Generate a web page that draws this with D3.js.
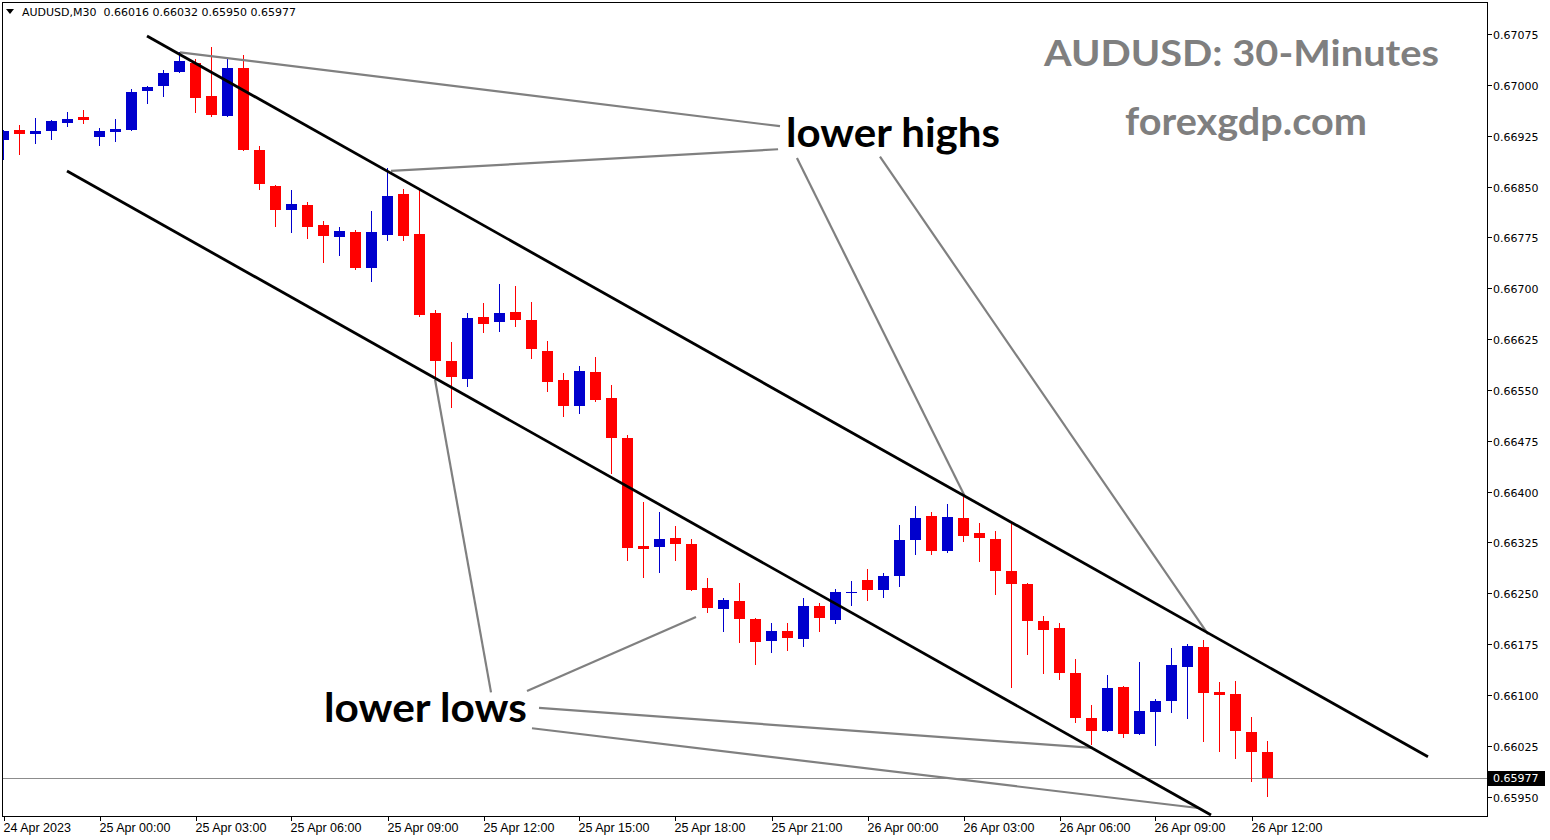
<!DOCTYPE html>
<html><head><meta charset="utf-8">
<script src="https://cdn.jsdelivr.net/npm/d3@7"></script>
<style>body{margin:0;background:#fff}svg{display:block}</style>
</head><body>
<svg id="c" width="1550" height="840"></svg>
<script>
// ---- data ----
const symbol = "AUDUSD,M30";
const opens = [0.66919,0.66933,0.66928,0.66932,0.66944,0.66953,0.66923,0.66930,0.66933,0.66991,
0.66998,0.67019,0.67032,0.66984,0.66954,0.67025,0.66904,0.66851,0.66815,0.66823,
0.66793,0.66776,0.66783,0.66730,0.66779,0.66839,0.66780,0.66663,0.66593,0.66566,
0.66658,0.66650,0.66665,0.66653,0.66607,0.66565,0.66526,0.66576,0.66538,0.66479,
0.66320,0.66318,0.66332,0.66323,0.66258,0.66227,0.66239,0.66212,0.66180,0.66194,
0.66183,0.66231,0.66211,0.66250,0.66270,0.66255,0.66276,0.66329,0.66364,0.66312,
0.66361,0.66339,0.66330,0.66283,0.66264,0.66209,0.66199,0.66133,0.66066,0.66047,
0.66112,0.66042,0.66075,0.66091,0.66141,0.66171,0.66104,0.66101,0.66045,0.66016];
const highs = [0.66933,0.66941,0.66951,0.66948,0.66960,0.66963,0.66936,0.66950,0.66994,0.66998,
0.67022,0.67048,0.67038,0.67056,0.67038,0.67044,0.66910,0.66852,0.66845,0.66827,
0.66799,0.66790,0.66786,0.66814,0.66877,0.66846,0.66845,0.66668,0.66621,0.66663,
0.66678,0.66706,0.66703,0.66680,0.66622,0.66575,0.66585,0.66599,0.66557,0.66483,
0.66385,0.66370,0.66349,0.66330,0.66273,0.66243,0.66265,0.66214,0.66206,0.66206,
0.66243,0.66236,0.66256,0.66268,0.66286,0.66280,0.66351,0.66379,0.66370,0.66382,
0.66392,0.66354,0.66342,0.66354,0.66265,0.66217,0.66206,0.66153,0.66085,0.66130,
0.66113,0.66149,0.66094,0.66169,0.66175,0.66181,0.66119,0.66121,0.66068,0.66032];
const lows = [0.66889,0.66897,0.66913,0.66919,0.66938,0.66942,0.66910,0.66916,0.66932,0.66972,
0.66982,0.67018,0.66958,0.66953,0.66953,0.66903,0.66845,0.66790,0.66781,0.66773,
0.66737,0.66748,0.66727,0.66709,0.66770,0.66770,0.66658,0.66569,0.66523,0.66554,
0.66634,0.66635,0.66643,0.66596,0.66547,0.66510,0.66515,0.66532,0.66426,0.66298,
0.66273,0.66280,0.66298,0.66254,0.66221,0.66193,0.66177,0.66144,0.66162,0.66165,
0.66171,0.66193,0.66205,0.66231,0.66239,0.66243,0.66259,0.66307,0.66307,0.66310,
0.66326,0.66296,0.66247,0.66110,0.66159,0.66131,0.66122,0.66059,0.66026,0.66046,
0.66037,0.66041,0.66025,0.66074,0.66065,0.66031,0.66016,0.66006,0.65972,0.65950];
const closes = [0.66932,0.66927,0.66932,0.66947,0.66950,0.66948,0.66932,0.66935,0.66989,0.66997,
0.67017,0.67035,0.66981,0.66955,0.67025,0.66904,0.66854,0.66815,0.66824,0.66790,
0.66777,0.66784,0.66730,0.66783,0.66836,0.66777,0.66661,0.66593,0.66569,0.66656,
0.66647,0.66663,0.66653,0.66610,0.66562,0.66526,0.66578,0.66535,0.66479,0.66317,
0.66315,0.66330,0.66323,0.66255,0.66228,0.66240,0.66212,0.66178,0.66194,0.66184,
0.66231,0.66214,0.66252,0.66252,0.66255,0.66276,0.66329,0.66361,0.66312,0.66363,
0.66335,0.66332,0.66283,0.66264,0.66209,0.66196,0.66133,0.66066,0.66047,0.66110,
0.66042,0.66076,0.66091,0.66144,0.66172,0.66103,0.66100,0.66047,0.66016,0.65977];

const xTickIndex = [0,6,12,18,24,30,36,42,48,54,60,66,72,78];
const xTickLabels = ["24 Apr 2023","25 Apr 00:00","25 Apr 03:00","25 Apr 06:00","25 Apr 09:00",
"25 Apr 12:00","25 Apr 15:00","25 Apr 18:00","25 Apr 21:00","26 Apr 00:00","26 Apr 03:00",
"26 Apr 06:00","26 Apr 09:00","26 Apr 12:00"];
const yTicks = [0.65950,0.66025,0.66100,0.66175,0.66250,0.66325,0.66400,0.66475,0.66550,
0.66625,0.66700,0.66775,0.66850,0.66925,0.67000,0.67075];

// trend channel (bar index, price)
const channelLines = [
  [[8.97,0.67072],[89.03,0.66009]],
  [[3.97,0.66873],[75.47,0.65923]]
];
// annotation pointer lines (bar index, price)
const highPointers = [
  [[11.03,0.67048],[48.53,0.66939]],
  [[24.22,0.66873],[48.41,0.66905]],
  [[49.59,0.66892],[60.09,0.66393]],
  [[54.78,0.66894],[75.28,0.66190]]
];
const lowPointers = [
  [[26.97,0.66565],[30.47,0.66104]],
  [[32.72,0.66106],[43.28,0.66215]],
  [[33.47,0.66081],[68.09,0.66022]],
  [[33.03,0.66051],[74.78,0.65933]]
];
const lastPrice = 0.65977;

// ---- drawing ----
const svg = d3.select("#c");
const L = 2, R = 1487, T = 2, B = 816;
const x = d3.scaleLinear().domain([0, 79]).range([3.5, 3.5 + 16 * 79]);
const y = d3.scaleLinear().domain([0.65950, 0.67075]).range([796.75, 34]);

svg.append("defs").append("clipPath").attr("id","pc")
  .append("rect").attr("x",L+1).attr("y",T).attr("width",R-L-1).attr("height",B-T);

const plot = svg.append("g").attr("clip-path","url(#pc)");

const bars = d3.range(opens.length).map(i => ({i, o:opens[i], h:highs[i], l:lows[i], c:closes[i]}));
const col = d => d.c > d.o ? "#0000cd" : "#ff0000";

// price line
plot.append("line").attr("x1",L).attr("x2",R).attr("y1",Math.round(y(lastPrice))+0.5).attr("y2",Math.round(y(lastPrice))+0.5)
  .attr("stroke","#8c8c8c").attr("stroke-width",1);

const cg = plot.append("g").attr("shape-rendering","crispEdges");
cg.selectAll("line.w").data(bars).enter().append("line")
  .attr("x1",d=>x(d.i)).attr("x2",d=>x(d.i))
  .attr("y1",d=>Math.round(y(d.h))).attr("y2",d=>Math.round(y(d.l)))
  .attr("stroke",col).attr("stroke-width",1);
cg.selectAll("rect").data(bars).enter().append("rect")
  .attr("x",d=>x(d.i)-5.5).attr("width",11)
  .attr("y",d=>Math.round(y(Math.max(d.o,d.c))))
  .attr("height",d=>Math.max(1,Math.round(y(Math.min(d.o,d.c)))-Math.round(y(Math.max(d.o,d.c)))))
  .attr("fill",col);

const lineGen = d3.line().x(p=>x(p[0])).y(p=>y(p[1]));
plot.selectAll("path.ptr").data(highPointers.concat(lowPointers)).enter().append("path")
  .attr("d",lineGen).attr("fill","none").attr("stroke","#808080").attr("stroke-width",2.2);
plot.selectAll("path.ch").data(channelLines).enter().append("path")
  .attr("d",lineGen).attr("fill","none").attr("stroke","#000").attr("stroke-width",2.8);

// annotation texts
const ann = svg.append("g").attr("font-family","Lato, 'Open Sans', sans-serif").attr("font-weight","bold");
ann.append("text").attr("x",786).attr("y",147).attr("font-size",40).attr("textLength",214)
  .attr("lengthAdjust","spacingAndGlyphs").attr("fill","#000").text("lower highs");
ann.append("text").attr("x",324).attr("y",722).attr("font-size",40).attr("textLength",203)
  .attr("lengthAdjust","spacingAndGlyphs").attr("fill","#000").text("lower lows");
ann.append("text").attr("x",1044).attr("y",66).attr("font-size",37).attr("textLength",395)
  .attr("lengthAdjust","spacingAndGlyphs").attr("fill","#7f7f7f").text("AUDUSD: 30-Minutes");
ann.append("text").attr("x",1125).attr("y",135).attr("font-size",38).attr("textLength",242)
  .attr("lengthAdjust","spacingAndGlyphs").attr("fill","#7f7f7f").text("forexgdp.com");

// frame
const fr = svg.append("g").attr("shape-rendering","crispEdges").attr("stroke","#000").attr("stroke-width",1);
fr.append("line").attr("x1",L+0.5).attr("x2",L+0.5).attr("y1",T).attr("y2",B+0.5);
fr.append("line").attr("x1",L).attr("x2",R+0.5).attr("y1",T+0.5).attr("y2",T+0.5);
fr.append("line").attr("x1",L).attr("x2",R+0.5).attr("y1",B+0.5).attr("y2",B+0.5);
fr.append("line").attr("x1",R+0.5).attr("x2",R+0.5).attr("y1",T).attr("y2",B+0.5);

// right axis
const ra = svg.append("g").attr("font-family","'DejaVu Sans', sans-serif").attr("font-size",11);
yTicks.forEach(v => {
  const yy = Math.round(y(v)) + 0.5;
  ra.append("line").attr("x1",R).attr("x2",R+5).attr("y1",yy).attr("y2",yy).attr("stroke","#000").attr("shape-rendering","crispEdges");
  ra.append("text").attr("x",R+6).attr("y",yy+4).attr("fill","#000").text(d3.format(".5f")(v));
});
// last price label
const lp = Math.round(y(lastPrice));
ra.append("rect").attr("x",R+1).attr("y",lp-7).attr("width",57).attr("height",15).attr("fill","#000");
ra.append("text").attr("x",R+6).attr("y",lp+4).attr("fill","#fff").text(d3.format(".5f")(lastPrice));

// bottom axis
const ba = svg.append("g").attr("font-family","'Liberation Sans', Arial, sans-serif").attr("font-size",12.5);
xTickIndex.forEach((idx,k) => {
  const xx = Math.round(x(idx)) + 0.5;
  ba.append("line").attr("x1",xx).attr("x2",xx).attr("y1",B).attr("y2",B+5).attr("stroke","#000").attr("shape-rendering","crispEdges");
  ba.append("text").attr("x",xx-1).attr("y",832).attr("fill","#000").text(xTickLabels[k]);
});

// header
svg.append("path").attr("d","M6,9 L14,9 L10,14 Z").attr("fill","#000");
svg.append("text").attr("x",22).attr("y",16).attr("font-family","'DejaVu Sans', sans-serif").attr("font-size",11)
  .attr("fill","#000").style("white-space","pre")
  .text(symbol + "  " + [opens[79],highs[79],lows[79],closes[79]].map(d3.format(".5f")).join(" "));
</script>
</body></html>
